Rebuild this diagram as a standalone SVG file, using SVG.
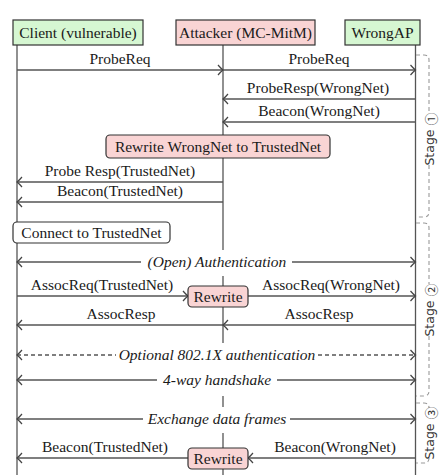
<svg xmlns="http://www.w3.org/2000/svg" width="445" height="475" viewBox="0 0 445 475">
<defs>
<marker id="arr" viewBox="-7 -6 8 12" markerWidth="8" markerHeight="12" refX="0" refY="0" orient="auto-start-reverse" markerUnits="userSpaceOnUse">
<path d="M-5,-5 Q-2,-1.5 0,0 Q-2,1.5 -5,5" fill="none" stroke="#444" stroke-width="1.2"/>
</marker>
<style>
.t{font-family:"Liberation Serif","Times New Roman",serif;font-size:15.5px;fill:#1a1a1a}
.i{font-family:"Liberation Serif","Times New Roman",serif;font-size:15.5px;font-style:italic;fill:#1a1a1a}
.c{text-anchor:middle}
.life{stroke:#555;stroke-width:1.3;fill:none}
.msg{stroke:#555;stroke-width:1.3;fill:none;marker-end:url(#arr)}
.dbl{stroke:#555;stroke-width:1.3;fill:none;marker-end:url(#arr);marker-start:url(#arr)}
.dash{stroke-dasharray:4 3}
.green{fill:#d6f7d2;stroke:#333;stroke-width:1.2}
.pink{fill:#f9d4d4;stroke:#333;stroke-width:1.2}
.note{fill:#fff;stroke:#333;stroke-width:1.2}
.bg{fill:#fff;stroke:none}
.stage{fill:none;stroke:#9a9a9a;stroke-width:1.1;stroke-dasharray:4 3}
.st{font-family:"DejaVu Sans","Noto Sans CJK JP",sans-serif;font-size:12.5px;fill:#333;text-anchor:middle;dominant-baseline:central}
.num{font-family:"Noto Sans CJK JP","DejaVu Sans",sans-serif;font-size:13px}
</style>
</defs>
<rect width="445" height="475" fill="#fff"/>

<g id="client">
<line class="life" x1="17" y1="45" x2="17" y2="475"/>
<rect class="green" x="13" y="20" width="130" height="25"/>
<text class="t c" x="78" y="37.5">Client (vulnerable)</text>
</g>
<g id="attacker">
<line class="life" x1="223" y1="45" x2="223" y2="475"/>
<rect class="pink" x="176" y="20" width="139" height="25"/>
<text class="t c" x="245.5" y="37.5">Attacker (MC-MitM)</text>
</g>
<g id="wrongap">
<line class="life" x1="415.5" y1="45" x2="415.5" y2="475"/>
<rect class="green" x="345" y="20" width="75" height="25"/>
<text class="t c" x="382.5" y="37.5">WrongAP</text>
</g>

<g id="connectors">
<line class="msg" x1="17" y1="70" x2="223" y2="70"/>
<text class="t c" x="120" y="64">ProbeReq</text>
<line class="msg" x1="223" y1="70" x2="415.5" y2="70"/>
<text class="t c" x="319" y="64">ProbeReq</text>
<line class="msg" x1="415.5" y1="99" x2="223" y2="99"/>
<text class="t c" x="318" y="93">ProbeResp(WrongNet)</text>
<line class="msg" x1="415.5" y1="122" x2="223" y2="122"/>
<text class="t c" x="319" y="116">Beacon(WrongNet)</text>
<line class="msg" x1="223" y1="182" x2="17" y2="182"/>
<text class="t c" x="120" y="176">Probe Resp(TrustedNet)</text>
<line class="msg" x1="223" y1="202" x2="17" y2="202"/>
<text class="t c" x="120" y="196">Beacon(TrustedNet)</text>

<line class="dbl" x1="17" y1="262" x2="415.5" y2="262"/>
<rect class="bg" x="141" y="250" width="151" height="26"/>
<text class="i c" x="217" y="267">(Open) Authentication</text>

<line class="msg" x1="17" y1="296" x2="188" y2="296"/>
<text class="t c" x="102" y="290">AssocReq(TrustedNet)</text>
<line class="msg" x1="248" y1="296" x2="415.5" y2="296"/>
<text class="t c" x="331" y="290">AssocReq(WrongNet)</text>

<line class="msg" x1="223" y1="325" x2="17" y2="325"/>
<text class="t c" x="121" y="319">AssocResp</text>
<line class="msg" x1="415.5" y1="325" x2="223" y2="325"/>
<text class="t c" x="319" y="319">AssocResp</text>

<line class="dbl dash" x1="17" y1="355" x2="415.5" y2="355"/>
<rect class="bg" x="116" y="343" width="202" height="25"/>
<text class="i c" x="217" y="360">Optional 802.1X authentication</text>

<line class="dbl" x1="17" y1="380" x2="415.5" y2="380"/>
<rect class="bg" x="157" y="368" width="120" height="28"/>
<text class="i c" x="217" y="385">4-way handshake</text>

<line class="dbl" x1="17" y1="419" x2="415.5" y2="419"/>
<rect class="bg" x="143" y="407" width="147" height="26"/>
<text class="i c" x="217" y="424">Exchange data frames</text>

<line class="msg" x1="188" y1="458" x2="17" y2="458"/>
<text class="t c" x="105" y="452">Beacon(TrustedNet)</text>
<line class="msg" x1="415.5" y1="458" x2="248" y2="458"/>
<text class="t c" x="335" y="452">Beacon(WrongNet)</text>
</g>

<g id="rewrite1">
<rect class="pink" x="106" y="135" width="224" height="23" rx="4"/>
<text class="t c" x="218" y="151.5">Rewrite WrongNet to TrustedNet</text>
</g>
<g id="connect">
<rect class="note" x="13" y="222" width="157" height="21" rx="4"/>
<text class="t c" x="91.5" y="237.5">Connect to TrustedNet</text>
</g>
<g id="rewrite2">
<rect class="pink" x="188" y="286" width="60" height="21" rx="4"/>
<text class="t c" x="218" y="301.5">Rewrite</text>
</g>
<g id="rewrite3">
<rect class="pink" x="188" y="448" width="60" height="21" rx="4"/>
<text class="t c" x="218" y="463.5">Rewrite</text>
</g>

<g id="stage1">
<path class="stage" d="M416,55 H424 Q429,55 429,60 V113 M429,165 V212 Q429,217 424,217 H416"/>
<text class="st" transform="rotate(-90 429.5 139)" x="429.5" y="139">Stage <tspan class="num">①</tspan></text>
</g>
<g id="stage2">
<path class="stage" d="M416,223 H424 Q429,223 429,228 V284 M429,336 V391 Q429,396 424,396 H416"/>
<text class="st" transform="rotate(-90 429.5 310)" x="429.5" y="310">Stage <tspan class="num">②</tspan></text>
</g>
<g id="stage3">
<path class="stage" d="M416,403 H424 Q429,403 429,408 M429,458 Q429,463 424,463 H416"/>
<text class="st" transform="rotate(-90 429.5 433)" x="429.5" y="433">Stage <tspan class="num">③</tspan></text>
</g>
</svg>
